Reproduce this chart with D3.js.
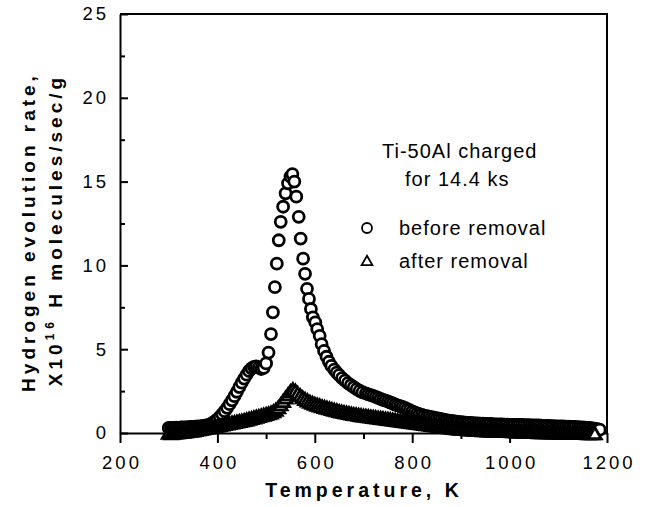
<!DOCTYPE html>
<html>
<head>
<meta charset="utf-8">
<script src="https://cdn.jsdelivr.net/npm/d3@7"></script>
<style>
  body { margin: 0; background: #fff; }
  text { font-family: "Liberation Sans", Arial, Helvetica, sans-serif; fill: #000; }
</style>
</head>
<body>
<div class="chart"></div>
<script>
let width = 647
let height = 507

// tick values
let xMajor = [200, 400, 600, 800, 1000, 1200]
let xMinor = [300, 500, 700, 900, 1100]
let yMajor = [0, 5, 10, 15, 20, 25]
let yMinor = [2.5, 7.5, 12.5, 17.5, 22.5]

// before removal (circles): [temperature K, rate x10^16]
let beforeRemoval = [
  [300,.30],[305,.31],[310,.30],[315,.32],[320,.31],[325,.33],[330,.34],[335,.33],[340,.35],[345,.36],
  [350,.37],[355,.38],[360,.39],[365,.40],[370,.42],[375,.44],[380,.47],[385,.52],[390,.60],[395,.70],
  [400,.82],[405,.96],[410,1.12],[415,1.30],[420,1.50],[425,1.72],[430,1.95],[435,2.20],[440,2.46],[445,2.74],
  [450,3.00],[455,3.25],[460,3.48],[465,3.70],[470,3.86],[475,3.95],[480,3.98],[485,3.90],[490,3.82],[495,3.88],
  [500,4.15],[505,4.80],[510,5.90],[514,7.20],[518,8.70],[522,10.1],[526,11.5],[530,12.6],[535,13.5],[540,14.3],
  [545,14.9],[550,15.3],[554,15.45],[558,15.0],[562,14.1],[567,12.9],[571,11.6],[576,10.4],[580,9.50],[584,8.60],
  [588,8.00],[592,7.40],[596,6.90],[601,6.60],[605,6.20],[610,5.80],[614,5.30],[619,4.90],[624,4.55],[629,4.25],
  [634,4.00],[640,3.78],[645,3.60],[650,3.45],[656,3.28],[662,3.12],[668,2.98],[674,2.85],[680,2.73],[686,2.62],
  [692,2.52],[698,2.43],[705,2.36],[710,2.31],[715,2.26],[720,2.21],[725,2.15],[730,2.09],[735,2.03],[740,1.98],
  [745,1.93],[750,1.88],[755,1.82],[760,1.76],[765,1.70],[770,1.65],[775,1.60],[780,1.56],[785,1.50],[790,1.43],
  [795,1.36],[800,1.29],[805,1.23],[810,1.17],[815,1.12],[820,1.08],[825,1.04],[830,1.00],[835,.97],[840,.94],
  [845,.91],[850,.88],[855,.85],[860,.82],[865,.79],[870,.76],[875,.74],[880,.72],[885,.70],[890,.68],
  [895,.66],[900,.64],[905,.63],[910,.62],[915,.61],[920,.60],[925,.59],[930,.58],[935,.57],[940,.56],
  [945,.56],[950,.55],[955,.54],[960,.54],[965,.53],[970,.52],[975,.52],[980,.51],[985,.51],[990,.50],
  [995,.50],[1000,.49],[1005,.49],[1010,.49],[1015,.48],[1020,.48],[1025,.48],[1030,.47],[1035,.47],[1040,.47],
  [1045,.46],[1050,.46],[1055,.45],[1060,.45],[1065,.44],[1070,.43],[1075,.43],[1080,.42],[1085,.41],[1090,.41],
  [1095,.40],[1100,.40],[1105,.39],[1110,.39],[1115,.38],[1120,.38],[1125,.37],[1130,.36],[1135,.36],[1140,.35],
  [1145,.34],[1150,.33],[1155,.32],[1160,.31],[1165,.30],[1170,.28],[1175,.26],[1180,.23],[1185,.20]
]

// after removal (triangles)
let afterRemoval = [
  [300,-.10],[305,-.12],[310,-.10],[315,-.08],[320,-.07],[325,-.05],[330,-.04],[335,-.02],[340,.00],[345,.02],
  [350,.04],[355,.06],[360,.09],[365,.12],[370,.15],[375,.18],[380,.21],[385,.24],[390,.27],[395,.30],
  [400,.33],[405,.36],[410,.39],[415,.42],[420,.45],[425,.48],[430,.51],[435,.54],[440,.57],[445,.60],
  [450,.63],[455,.66],[460,.70],[465,.74],[470,.78],[475,.82],[480,.86],[485,.90],[490,.94],[495,.98],
  [500,1.02],[505,1.06],[510,1.11],[515,1.18],[520,1.28],[525,1.42],[530,1.60],[535,1.80],[540,2.00],[545,2.20],
  [550,2.38],[555,2.50],[560,2.42],[565,2.28],[570,2.14],[575,2.02],[580,1.92],[585,1.83],[590,1.75],[595,1.69],
  [600,1.63],[605,1.58],[610,1.53],[615,1.48],[620,1.44],[625,1.40],[630,1.36],[635,1.32],[640,1.28],[645,1.24],
  [650,1.20],[655,1.17],[660,1.14],[665,1.11],[670,1.08],[675,1.05],[680,1.02],[685,1.00],[690,.97],[695,.95],
  [700,.93],[705,.91],[710,.89],[715,.87],[720,.85],[725,.83],[730,.81],[735,.79],[740,.77],[745,.75],
  [750,.73],[755,.71],[760,.69],[765,.67],[770,.65],[775,.63],[780,.61],[785,.59],[790,.57],[795,.55],
  [800,.53],[805,.51],[810,.49],[815,.47],[820,.45],[825,.43],[830,.41],[835,.39],[840,.37],[845,.35],
  [850,.33],[855,.31],[860,.29],[865,.27],[870,.25],[875,.23],[880,.21],[885,.19],[890,.17],[895,.15],
  [900,.14],[905,.13],[910,.12],[915,.11],[920,.10],[925,.09],[930,.08],[935,.07],[940,.06],[945,.05],
  [950,.05],[955,.04],[960,.04],[965,.03],[970,.03],[975,.02],[980,.02],[985,.01],[990,.01],[995,.00],
  [1000,.00],[1005,-.01],[1010,-.01],[1015,-.02],[1020,-.02],[1025,-.03],[1030,-.03],[1035,-.04],[1040,-.04],[1045,-.05],
  [1050,-.05],[1055,-.05],[1060,-.06],[1065,-.06],[1070,-.06],[1075,-.07],[1080,-.07],[1085,-.07],[1090,-.08],[1095,-.08],
  [1100,-.08],[1105,-.09],[1110,-.09],[1115,-.09],[1120,-.10],[1125,-.10],[1130,-.10],[1135,-.10],[1140,-.11],[1145,-.11],
  [1150,-.11],[1155,-.11],[1160,-.12],[1165,-.12],[1170,-.12],[1175,-.12]
]

let x = d3.scaleLinear().domain([200, 1200]).range([120, 607])
let y = d3.scaleLinear().domain([0, 25]).range([433, 14])

let svg = d3.select('div.chart')
    .append('svg')
    .attr('width', width)
    .attr('height', height)
    .style('background', '#fff')

// x axis: ticks point down, labels spaced out
let xAxis = svg.append('g')
    .attr('transform', 'translate(0,' + y(0) + ')')
    .call(d3.axisBottom(x).tickValues(xMajor).tickSize(10).tickSizeOuter(0).tickPadding(13).tickFormat(d3.format('d')))
xAxis.selectAll('text')
    .style('font-size', '18.5px')
    .style('letter-spacing', '3px')
    .attr('dx', '1.5px')
svg.append('g')
    .attr('transform', 'translate(0,' + y(0) + ')')
    .call(d3.axisBottom(x).tickValues(xMinor).tickSize(6).tickFormat(''))
    .select('.domain').remove()

// y axis: ticks point inward
let yAxis = svg.append('g')
    .attr('transform', 'translate(' + x(200) + ',0)')
    .call(d3.axisLeft(y).tickValues(yMajor).tickSize(-8).tickSizeOuter(0).tickPadding(11))
yAxis.selectAll('text')
    .style('font-size', '18.5px')
    .style('letter-spacing', '3px')
svg.append('g')
    .attr('transform', 'translate(' + x(200) + ',0)')
    .call(d3.axisLeft(y).tickValues(yMinor).tickSize(-5).tickFormat(''))
    .select('.domain').remove()

svg.selectAll('.domain, .tick line')
    .style('stroke', '#000')
    .style('stroke-width', 2)

// top and right frame
svg.append('path')
    .attr('d', 'M' + x(200) + ',' + y(25) + 'H' + x(1200) + 'V' + y(0))
    .style('fill', 'none')
    .style('stroke', '#000')
    .style('stroke-width', 2)

// axis titles
svg.append('text')
    .attr('x', 364)
    .attr('y', 497)
    .attr('text-anchor', 'middle')
    .style('font-size', '19.5px')
    .style('font-weight', 'bold')
    .style('letter-spacing', '4px')
    .text('Temperature, K')

svg.append('text')
    .attr('transform', 'translate(35,232) rotate(-90)')
    .attr('text-anchor', 'middle')
    .style('font-size', '19px')
    .style('font-weight', 'bold')
    .style('letter-spacing', '4px')
    .text('Hydrogen evolution rate,')

let yl2 = svg.append('text')
    .attr('transform', 'translate(62,230) rotate(-90)')
    .attr('text-anchor', 'middle')
    .style('font-size', '19px')
    .style('font-weight', 'bold')
    .style('letter-spacing', '4px')
yl2.append('tspan').text('X10')
yl2.append('tspan').attr('dy', -8).style('font-size', '12px').style('letter-spacing', '5px').text('16')
yl2.append('tspan').attr('dy', 8).text(' H molecules/sec/g')

// data points
let tri = d3.symbol().type(d3.symbolTriangle).size(72)

svg.append('g')
    .selectAll('circle')
    .data(beforeRemoval)
    .enter()
    .append('circle')
    .attr('cx', d => x(d[0]))
    .attr('cy', d => y(d[1]))
    .attr('r', 5.5)
    .style('fill', '#fff')
    .style('stroke', '#000')
    .style('stroke-width', 2.8)

svg.append('g')
    .selectAll('path')
    .data(afterRemoval)
    .enter()
    .append('path')
    .attr('d', tri)
    .attr('transform', d => 'translate(' + x(d[0]) + ',' + y(d[1]) + ')')
    .style('fill', '#fff')
    .style('stroke', '#000')
    .style('stroke-width', 2.8)

// legend
let legend = svg.append('g').style('font-size', '20px').style('letter-spacing', '1px')
legend.append('text').attr('x', 382).attr('y', 158).text('Ti-50Al charged')
legend.append('text').attr('x', 405).attr('y', 186).text('for 14.4 ks')
legend.append('circle')
    .attr('cx', 367).attr('cy', 228).attr('r', 5)
    .style('fill', '#fff').style('stroke', '#000').style('stroke-width', 1.8)
legend.append('text').attr('x', 399).attr('y', 235).text('before removal')
legend.append('path')
    .attr('d', d3.symbol().type(d3.symbolTriangle).size(50))
    .attr('transform', 'translate(367,262)')
    .style('fill', '#fff').style('stroke', '#000').style('stroke-width', 1.8)
legend.append('text').attr('x', 399).attr('y', 268).text('after removal')
</script>
</body>
</html>
